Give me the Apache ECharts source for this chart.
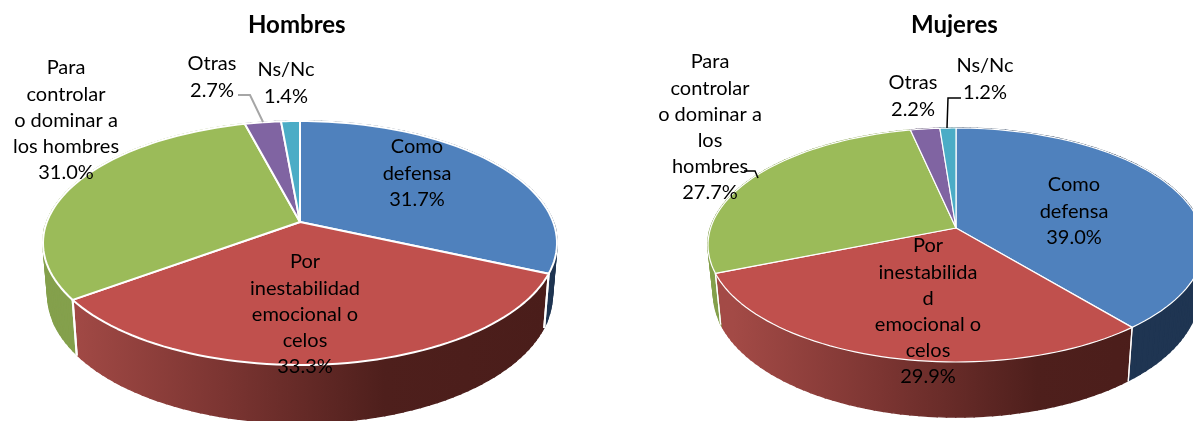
<!DOCTYPE html>
<html>
<head>
<meta charset="utf-8">
<style>html,body{margin:0;padding:0;background:#fff}#c{width:1193px;height:421px}</style>
<script src="https://cdn.jsdelivr.net/npm/echarts@6/dist/echarts.min.js"></script>
</head>
<body>
<div id="c"></div>
<script>
const categories = ['Como defensa', 'Por inestabilidad emocional o celos', 'Para controlar o dominar a los hombres', 'Otras', 'Ns/Nc'];
const hombres = [31.7, 33.3, 31.0, 2.7, 1.4];
const mujeres = [39.0, 29.9, 27.7, 2.2, 1.2];
const titles = ['Hombres', 'Mujeres'];

const topColors = ['#4F81BD', '#C0504D', '#9BBB59', '#8064A2', '#4BACC6'];
const FONT = 'Lato, "Open Sans", sans-serif';
const FS = 20, LH = 26.2;

const hombresLayout = {
  cx: 300, apexY: 222, topY: 121, frontY: 365, halfW: 257, depth: 58, shrink: 0.982, edge: 2,
  labels: [
    {x: 417, y: 147, lines: ['Como', 'defensa']},
    {x: 305, y: 262, lines: ['Por', 'inestabilidad', 'emocional o', 'celos']},
    {x: 66,  y: 68,  lines: ['Para', 'controlar', 'o dominar a', 'los hombres']},
    {x: 212, y: 64,  lines: ['Otras']},
    {x: 286, y: 70,  lines: ['Ns/Nc']}
  ],
  leaders: [{color: '#A6A6A6', width: 2, pts: [[238, 95], [250, 95], [263, 122]]}]
};
const mujeresLayout = {
  cx: 956, apexY: 228, topY: 128, frontY: 362, halfW: 248, depth: 55, shrink: 0.978, edge: 1.2,
  labels: [
    {x: 1074, y: 185, lines: ['Como', 'defensa']},
    {x: 928, y: 246, lines: ['Por', 'inestabilida', 'd', 'emocional o', 'celos']},
    {x: 710, y: 62,  lines: ['Para', 'controlar', 'o dominar a', 'los', 'hombres']},
    {x: 913, y: 83,  lines: ['Otras']},
    {x: 985, y: 66,  lines: ['Ns/Nc']}
  ],
  leaders: [
    {color: '#000', width: 1.5, pts: [[961, 98], [948, 98], [947, 128]]},
    {color: '#000', width: 1.5, pts: [[744, 171], [755, 171], [758, 178]]}
  ]
};

function projector(L) {
  const sum = L.topY + L.frontY;
  const c = (2 * L.apexY - sum) / (L.frontY - L.topY);
  const b = L.apexY - L.topY + L.topY * c;
  const k = L.halfW * Math.sqrt(1 - c * c);
  return function (theta) {
    const u = Math.sin(theta), v = -Math.cos(theta), w = 1 + c * v;
    return {x: L.cx + k * u / w, y: (L.apexY + b * v) / w, v: v};
  };
}

function wallFill(i, L) {
  if (i === 0) return '#1F3552';
  if (i === 2) return '#84A04C';
  if (i === 1) {
    return {
      type: 'linear', global: true,
      x: L.cx - L.halfW + 25, y: 0, x2: L.cx + L.halfW - 10, y2: 0,
      colorStops: [
        {offset: 0, color: '#A34A46'},
        {offset: 0.32, color: '#7C3532'},
        {offset: 0.66, color: '#4E1F1C'},
        {offset: 1, color: '#4A1D1A'}
      ]
    };
  }
  return i === 3 ? '#4D3C62' : '#2D6777';
}

function pieSeries(values, L) {
  const total = values.reduce((a, b) => a + b, 0);
  const proj = projector(L);
  return {
    type: 'custom',
    coordinateSystem: 'none',
    silent: true,
    animation: false,
    clip: false,
    data: values,
    renderItem: function (params, api) {
      const i = params.dataIndex;
      const before = values.slice(0, i).reduce((a, b) => a + b, 0);
      const a0 = before / total * Math.PI * 2;
      const a1 = (before + api.value(0)) / total * Math.PI * 2;
      const n = Math.max(4, Math.ceil((a1 - a0) * 30));
      const rim = [], low = [];
      for (let s = 0; s <= n; s++) {
        const p = proj(a0 + (a1 - a0) * s / n);
        rim.push([p.x, p.y]);
        low.push([L.cx + (p.x - L.cx) * L.shrink, p.y + L.depth * (0.86 + 0.14 * p.v)]);
      }
      const children = [];
      const fill = wallFill(i, L);
      for (let s = 0; s < n; s++) {
        children.push({
          type: 'polygon', z2: 1,
          shape: {points: [rim[s], rim[s + 1], low[s + 1], low[s]]},
          style: {fill: fill, stroke: fill, lineWidth: 1.5}
        });
      }
      [0, n].forEach(function (s) {
        children.push({
          type: 'line', z2: 2,
          shape: {x1: rim[s][0], y1: rim[s][1], x2: low[s][0], y2: low[s][1] + 1},
          style: {stroke: '#fff', lineWidth: L.edge}
        });
      });
      children.push({
        type: 'polygon', z2: 3,
        shape: {points: [[L.cx, L.apexY]].concat(rim)},
        style: {fill: topColors[i], stroke: '#fff', lineWidth: L.edge, lineJoin: 'round'}
      });
      const lab = L.labels[i];
      const text = lab.lines.concat([api.value(0).toFixed(1) + '%']).join('\n');
      children.push({
        type: 'text', z2: 5,
        style: {
          text: text, x: lab.x, y: lab.y - LH / 2, align: 'center', verticalAlign: 'top',
          fontFamily: FONT, fontSize: FS, lineHeight: LH, fill: '#000'
        }
      });
      if (i === 0) {
        L.leaders.forEach(function (l) {
          children.push({
            type: 'polyline', z2: 4,
            shape: {points: l.pts},
            style: {fill: 'none', stroke: l.color, lineWidth: l.width}
          });
        });
      }
      return {type: 'group', children: children};
    }
  };
}

const chart = echarts.init(document.getElementById('c'), null, {renderer: 'canvas'});
chart.setOption({
  backgroundColor: '#fff',
  animation: false,
  title: [
    {text: titles[0], left: 248, top: 13,
     textStyle: {fontFamily: FONT, fontSize: 24, fontWeight: 'bold', color: '#000'}, padding: 0},
    {text: titles[1], left: 911, top: 13,
     textStyle: {fontFamily: FONT, fontSize: 24, fontWeight: 'bold', color: '#000'}, padding: 0}
  ],
  series: [pieSeries(hombres, hombresLayout), pieSeries(mujeres, mujeresLayout)]
});
</script>
</body>
</html>
